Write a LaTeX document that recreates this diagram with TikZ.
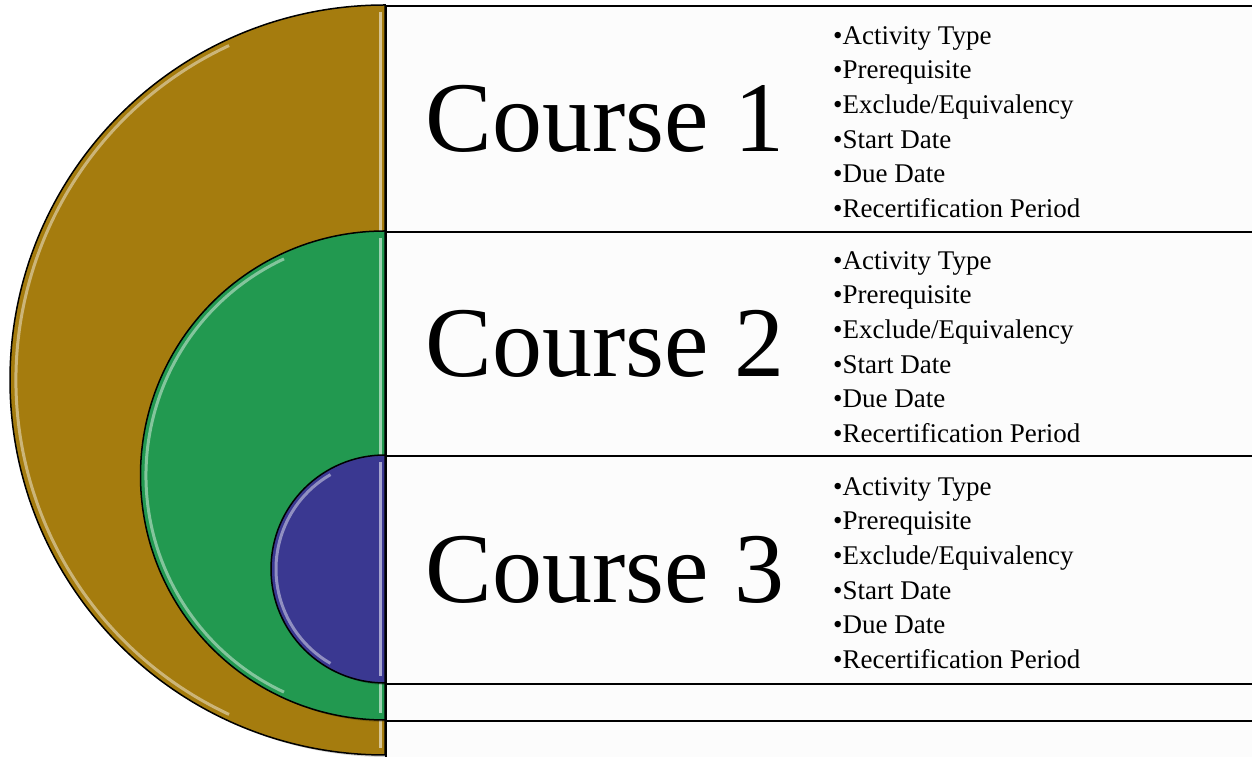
\documentclass[tikz,border=0pt]{standalone}
\usepackage{fontspec}
\setmainfont{Liberation Serif}
\usepackage{xcolor}
\usepackage{tikz}
\usetikzlibrary{calc}
\definecolor{ringGold}{RGB}{165,124,14}
\definecolor{ringGreen}{RGB}{34,153,80}
\definecolor{ringBlue}{RGB}{58,56,145}
\definecolor{rowFill}{RGB}{252,252,252}
\newcommand{\CourseFont}{\fontsize{100}{106}\selectfont}
\newcommand{\ItemFont}{\fontsize{27}{34.6}\selectfont}
\newcommand{\ItemList}{\textbullet Activity Type\\ \textbullet Prerequisite\\ \textbullet Exclude/Equivalency\\
  \textbullet Start Date\\ \textbullet Due Date\\ \textbullet Recertification Period}

\begin{document}
\begin{tikzpicture}[x=1pt,y=1pt,
    rowbox/.style={draw=black,fill=rowFill,line width=2pt,minimum width=890pt,anchor=north west,inner sep=0pt},
    itemlist/.style={anchor=west,align=left,inner sep=0pt,font=\ItemFont}]
        \useasboundingbox (0,0) rectangle (1252,757);
        \clip (0,0) rectangle (1252,757);
        % half discs, biggest first
        \fill[black,opacity=0.18] (388,750) arc[start angle=90,end angle=270,radius=375] -- cycle;
        \filldraw[fill=ringGold,draw=black,line width=1.5pt] (385,752) arc[start angle=90,end angle=270,radius=375] -- cycle;
        \draw[ringGold!45!white,line width=3pt,opacity=0.8] (385,377) ++(115:369) arc[start angle=115,end angle=245,radius=369];
        \draw[ringGold!45!white,line width=3pt] (380,745) -- (380,9);
        \fill[black,opacity=0.18] (388,524) arc[start angle=90,end angle=270,radius=244.5] -- cycle;
        \filldraw[fill=ringGreen,draw=black,line width=1.5pt] (385,526) arc[start angle=90,end angle=270,radius=244.5] -- cycle;
        \draw[ringGreen!45!white,line width=3pt,opacity=0.8] (385,281.5) ++(115:239) arc[start angle=115,end angle=245,radius=239];
        \draw[ringGreen!45!white,line width=3pt] (380,519) -- (380,44);
        \fill[black,opacity=0.18] (388,300) arc[start angle=90,end angle=270,radius=114] -- cycle;
        \filldraw[fill=ringBlue,draw=black,line width=1.5pt] (385,302) arc[start angle=90,end angle=270,radius=114] -- cycle;
        \draw[ringBlue!45!white,line width=3pt,opacity=0.8] (385,188) ++(120:109) arc[start angle=120,end angle=240,radius=109];
        \draw[ringBlue!45!white,line width=3pt] (380,295) -- (380,81);
        % rows
        \node[rowbox,minimum height=226pt] (row1) at (385,752) {};
        \node[rowbox,minimum height=224pt] (row2) at (385,526) {};
        \node[rowbox,minimum height=228pt] (row3) at (385,302) {};
        \node[rowbox,minimum height=37pt] (row4) at (385,74) {};
        \node[rowbox,minimum height=45pt] (row5) at (385,37) {};
        % course names
        \node[font=\CourseFont] (course1) at ($(row1.west)+(220,0)$) {Course 1};
        \node[font=\CourseFont] (course2) at ($(row2.west)+(220,0)$) {Course 2};
        \node[font=\CourseFont] (course3) at ($(row3.west)+(220,0)$) {Course 3};
        % attributes
        \node[itemlist] (items1) at ($(row1.west)+(448,-3)$) {\ItemList};
        \node[itemlist] (items2) at ($(row2.west)+(448,-3)$) {\ItemList};
        \node[itemlist] (items3) at ($(row3.west)+(448,-3)$) {\ItemList};
      \end{tikzpicture}
\end{document}
